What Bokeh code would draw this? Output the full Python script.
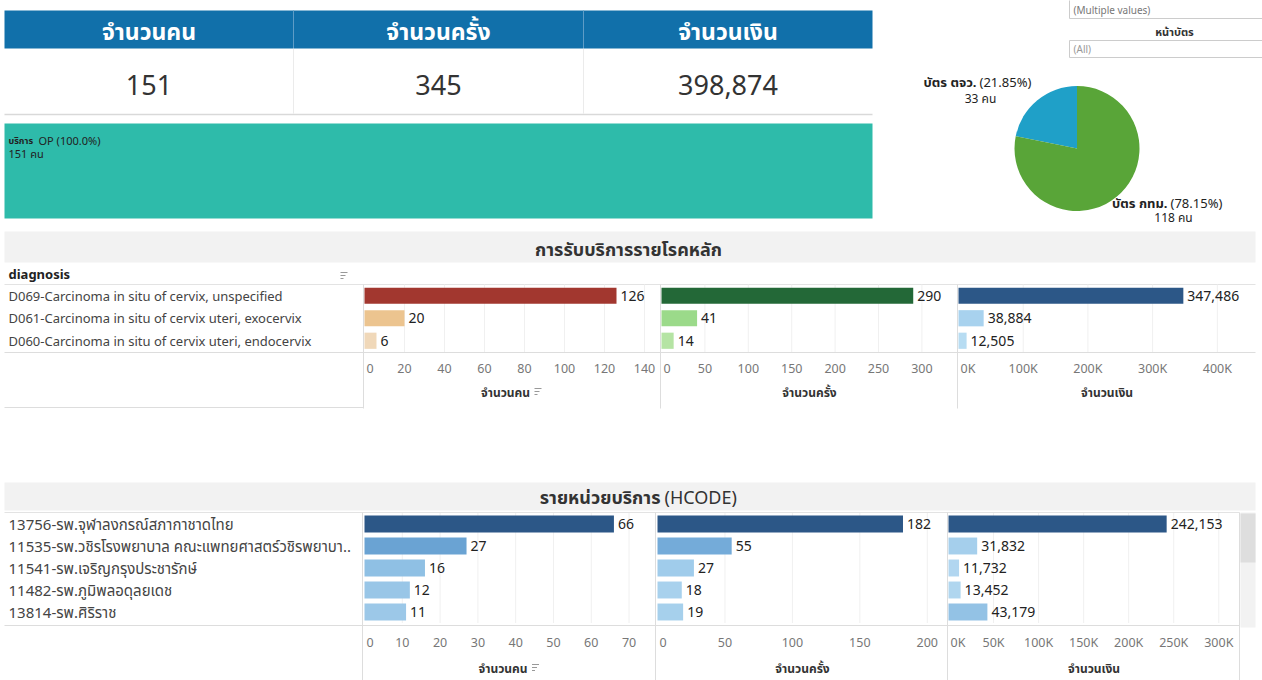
import numpy as np
from bokeh.plotting import figure
from bokeh.models import Range1d, ColumnDataSource
from bokeh.core.properties import value
from bokeh.embed import file_html
from bokeh.resources import INLINE

# ---------------- data ----------------
kpi_titles = ["จำนวนคน", "จำนวนครั้ง", "จำนวนเงิน"]
kpi_values = [151, 345, 398874]

service_names = ["บริการ OP"]
service_people = [151]

card_types = ["บัตร ตจว.", "บัตร กทม."]
card_people = [33, 118]

diag_labels = [
    "D069-Carcinoma in situ of cervix, unspecified",
    "D061-Carcinoma in situ of cervix uteri, exocervix",
    "D060-Carcinoma in situ of cervix uteri, endocervix",
]
diag_people = [126, 20, 6]
diag_visits = [290, 41, 14]
diag_money = [347486, 38884, 12505]

diag_ticks_people = [0, 20, 40, 60, 80, 100, 120, 140]
diag_ticks_visits = [0, 50, 100, 150, 200, 250, 300]
diag_ticks_money = [0, 100000, 200000, 300000, 400000]
diag_tick_labels_money = ["0K", "100K", "200K", "300K", "400K"]

hcode_labels = [
    "13756-รพ.จุฬาลงกรณ์สภากาชาดไทย",
    "11535-รพ.วชิรโรงพยาบาล คณะแพทยศาสตร์วชิรพยาบา..",
    "11541-รพ.เจริญกรุงประชารักษ์",
    "11482-รพ.ภูมิพลอดุลยเดช",
    "13814-รพ.ศิริราช",
]
hcode_people = [66, 27, 16, 12, 11]
hcode_visits = [182, 55, 27, 18, 19]
hcode_money = [242153, 31832, 11732, 13452, 43179]

hcode_ticks_people = [0, 10, 20, 30, 40, 50, 60, 70]
hcode_ticks_visits = [0, 50, 100, 150, 200]
hcode_ticks_money = [0, 50000, 100000, 150000, 200000, 250000, 300000]
hcode_tick_labels_money = ["0K", "50K", "100K", "150K", "200K", "250K", "300K"]

axis_titles = ["จำนวนคน", "จำนวนครั้ง", "จำนวนเงิน"]
section_titles = ["การรับบริการรายโรคหลัก", "รายหน่วยบริการ", "(HCODE)"]
filter_texts = ["(Multiple values)", "หน้าบัตร", "(All)"]

# ---------------- styles ----------------
FONT = "Noto Sans, Noto Sans Thai, sans-serif"
DARK = "#333333"
LABEL = "#444444"
TICK = "#777777"
LINE = "#E3E3E3"
HEADER_BLUE = "#1170AA"
TEAL = "#2EBBAA"
PIE_COLORS = ["#1FA0C8", "#59A538"]

diag_colors = [
    ["#A2372F", "#ECC48F", "#F0D8B9"],
    ["#236837", "#9BDA8A", "#B5E4A4"],
    ["#2C5787", "#A8D2EE", "#B7DCF2"],
]
hcode_colors = [
    ["#2C5787", "#6AA3D3", "#8FC0E4", "#99C6E7", "#9CC8E8"],
    ["#2C5787", "#74ABD9", "#A0CCEB", "#A8D1ED", "#A6D0EC"],
    ["#2C5787", "#A5CFEC", "#B1D6F0", "#B0D6EF", "#93C2E5"],
]

W, H = 1262, 680
p = figure(width=W, height=H, x_range=Range1d(0, 1262), y_range=Range1d(680, 0),
           output_backend="svg", toolbar_location=None, min_border=0)
p.axis.visible = False
p.grid.visible = False
p.outline_line_color = None
p.background_fill_color = "white"


def txt(x, y, s, size=12, color=DARK, bold=False, align="left"):
    p.text(x=[x], y=[y], text=[s], text_font=value(FONT), text_font_size=f"{size}px",
           text_color=color, text_font_style="bold" if bold else "normal",
           text_align=align, text_baseline="middle")


def hline(x0, x1, y, color=LINE, w=1):
    p.segment(x0=[x0], x1=[x1], y0=[y], y1=[y], line_color=color, line_width=w)


def vline(x, y0, y1, color=LINE, w=1):
    p.segment(x0=[x], x1=[x], y0=[y0], y1=[y1], line_color=color, line_width=w)


def sort_icon(x, y, color="#999999"):
    p.segment(x0=[x, x, x], x1=[x + 7, x + 5, x + 3], y0=[y - 3, y, y + 3],
              y1=[y - 3, y, y + 3], line_color=color, line_width=1)


# ---------------- KPI table ----------------
cols = [4, 293, 583, 872]
p.quad(left=[cols[0]], right=[cols[-1]], top=[10], bottom=[48],
       fill_color=HEADER_BLUE, line_color=None)
for i, (t, v) in enumerate(zip(kpi_titles, kpi_values)):
    cx = (cols[i] + cols[i + 1]) / 2
    txt(cx, 30, t, size=23, color="white", bold=True, align="center")
    txt(cx, 84, f"{v:,}", size=27, color=DARK, align="center")
for x in cols[1:-1]:
    vline(x, 10, 48, color="#5E9CC6")
    vline(x, 48, 113, color="#EBEBEB")
hline(4, 872, 114, color="#D9D9D9", w=1.5)

# ---------------- service treemap (single cell) ----------------
total_service = sum(service_people)
p.quad(left=[4], right=[872], top=[123], bottom=[218], fill_color=TEAL, line_color=None)
for name, n in zip(service_names, service_people):
    nm = name.split(" ")
    txt(8, 140, nm[0], size=9, color="#222222", bold=True)
    txt(38, 140, f"{nm[1]} ({n / total_service * 100:.1f}%)", size=11, color="#222222")
    txt(8, 153, f"{n} คน", size=11, color="#222222")

# ---------------- filters ----------------
p.quad(left=[1069], right=[1262], top=[-2], bottom=[18], fill_color="white", line_color="#CCCCCC")
txt(1073, 9, filter_texts[0], size=10, color="#777777")
txt(1174, 31, filter_texts[1], size=11, color=DARK, bold=True, align="center")
p.quad(left=[1069], right=[1262], top=[40], bottom=[57], fill_color="white", line_color="#CCCCCC")
txt(1073, 48.5, filter_texts[2], size=10, color="#999999")

# ---------------- pie ----------------
card_total = sum(card_people)
frac = np.array(card_people) / card_total
cum = np.concatenate([[0], np.cumsum(frac)])
pie_src = ColumnDataSource(dict(
    start=np.pi / 2 + 2 * np.pi * cum[:-1],
    end=np.pi / 2 + 2 * np.pi * cum[1:],
    color=PIE_COLORS,
))
p.wedge(x=1076.5, y=148, radius=62.5, start_angle="start", end_angle="end",
        direction="anticlock", fill_color="color", line_color=None,
        source=pie_src)
pie_label_pos = [(976, 81, 980, 98), (1167, 202, 1173, 217)]
for (name, n, f, (sx, ly, cx, ny)) in zip(card_types, card_people, frac, pie_label_pos):
    txt(sx, ly, name, size=13, color="#222222", bold=True, align="right")
    txt(sx + 3, ly, f"({f * 100:.2f}%)", size=13, color="#222222")
    txt(cx, ny, f"{n} คน", size=12, color="#222222", align="center")

# ---------------- section headers ----------------
p.quad(left=[4], right=[1255], top=[231], bottom=[262], fill_color="#F2F2F2", line_color=None)
txt(628, 248, section_titles[0], size=18, color=DARK, bold=True, align="center")
p.quad(left=[4], right=[1255], top=[482], bottom=[510], fill_color="#F2F2F2", line_color=None)
txt(660, 496, section_titles[1], size=18, color=DARK, bold=True, align="right")
txt(664, 496, section_titles[2], size=18, color=DARK, align="left")


# ---------------- bar panes ----------------
def bar_pane(x0, x1, dmax, y0, y1, vals, colors, ticks, tick_labels, tick_y, bar_h):
    n = len(vals)
    xy = p.subplot(x_source=Range1d(0, dmax), x_target=Range1d(x0, x1),
                   y_source=Range1d(-0.5, n - 0.5), y_target=Range1d(y0, y1))
    ax = p.subplot(x_source=Range1d(0, dmax), x_target=Range1d(x0, x1),
                   y_source=Range1d(0, 1), y_target=Range1d(0, 1))
    ax.segment(x0=ticks[1:], x1=ticks[1:], y0=[y0] * (len(ticks) - 1),
               y1=[y1] * (len(ticks) - 1), line_color="#F0F0F0", line_width=1)
    src = ColumnDataSource(dict(y=list(range(n)), v=vals, c=colors,
                                lab=[f"{v:,}" for v in vals]))
    xy.hbar(y="y", left=0, right="v", height=bar_h, fill_color="c", line_color=None, source=src)
    xy.text(x="v", y="y", text="lab", x_offset=4, text_font=value(FONT), text_font_size="14px",
            text_color="#222222", text_align="left", text_baseline="middle", source=src)
    ax.text(x=[ticks[0]], y=[tick_y], text=[tick_labels[0]], x_offset=2, text_font=value(FONT),
            text_font_size="12.5px", text_color=TICK, text_align="left", text_baseline="middle")
    ax.text(x=ticks[1:], y=[tick_y] * (len(ticks) - 1), text=tick_labels[1:], text_font=value(FONT),
            text_font_size="12.5px", text_color=TICK, text_align="center", text_baseline="middle")


def axis_title(x0, x1, k, y, icon=False):
    if icon:
        txt((x0 + x1) / 2 - 7, y, axis_titles[k], size=12, color=DARK, bold=True, align="center")
        sort_icon((x0 + x1) / 2 + 22, y - 1)
    else:
        txt((x0 + x1) / 2, y, axis_titles[k], size=12, color=DARK, bold=True, align="center")


# diagnosis block
txt(8, 273, "diagnosis", size=13, color="#222222", bold=True)
sort_icon(340, 275)
hline(4, 1255, 284)
hline(4, 1255, 352, color="#DDDDDD")
hline(4, 363, 407, color="#DDDDDD")
for i, lab in enumerate(diag_labels):
    txt(8, 295 + 22.5 * i, lab, size=13, color=LABEL)
diag_panes = [(364, 660, 148), (661, 957, 341), (958, 1255, 459000)]
diag_vals = [diag_people, diag_visits, diag_money]
diag_ticks = [diag_ticks_people, diag_ticks_visits, diag_ticks_money]
diag_tlabs = [[str(t) for t in diag_ticks_people], [str(t) for t in diag_ticks_visits],
              diag_tick_labels_money]
for k in range(3):
    x0, x1, dm = diag_panes[k]
    bar_pane(x0, x1, dm, 284, 351.5, diag_vals[k], diag_colors[k], diag_ticks[k], diag_tlabs[k],
             368, 0.72)
    axis_title(x0, x1, k, 392, icon=(k == 0))
for x in [363, 660, 957]:
    vline(x, 284, 408, color="#DDDDDD")

# hcode block
hline(4, 1239, 512)
hline(4, 1239, 625, color="#DDDDDD")
for i, lab in enumerate(hcode_labels):
    txt(8, 523.5 + 22 * i, lab, size=15, color=LABEL)
hcode_panes = [(364, 655, 77), (657, 947, 215), (948, 1239, 323000)]
hcode_vals = [hcode_people, hcode_visits, hcode_money]
hcode_ticks = [hcode_ticks_people, hcode_ticks_visits, hcode_ticks_money]
hcode_tlabs = [[str(t) for t in hcode_ticks_people], [str(t) for t in hcode_ticks_visits],
               hcode_tick_labels_money]
for k in range(3):
    x0, x1, dm = hcode_panes[k]
    bar_pane(x0, x1, dm, 512.5, 622.5, hcode_vals[k], hcode_colors[k], hcode_ticks[k],
             hcode_tlabs[k], 642, 0.77)
    axis_title(x0, x1, k, 668, icon=(k == 0))
for x in [362, 655, 947, 1239]:
    vline(x, 512, 680, color="#DDDDDD")

# scrollbar
p.quad(left=[1240], right=[1255], top=[512], bottom=[627], fill_color="#F2F2F2", line_color=None)
p.quad(left=[1240], right=[1255], top=[513], bottom=[562], fill_color="#DEDEDE", line_color=None)

open("out.html", "w").write(file_html(p, INLINE))
